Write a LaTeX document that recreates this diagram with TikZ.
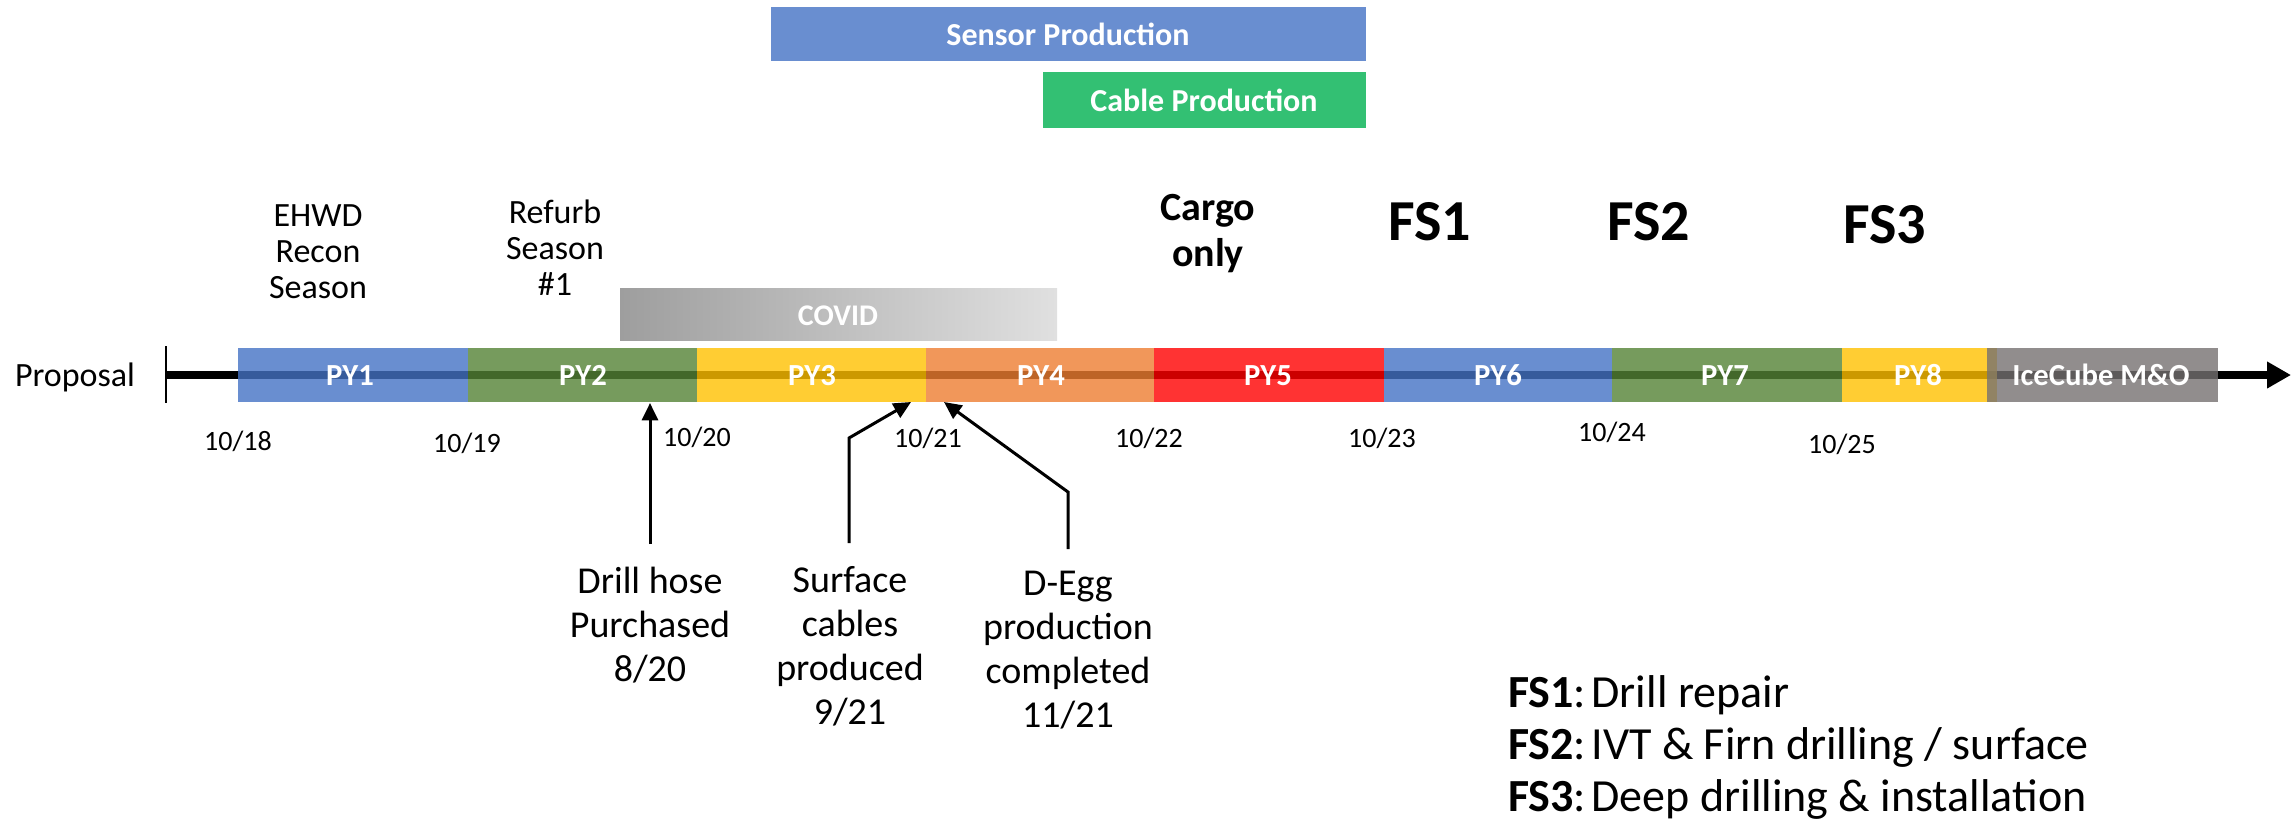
\documentclass[tikz,border=0pt]{standalone}
\usepackage{fontspec}
\setmainfont{Carlito}
\usetikzlibrary{arrows.meta}
\definecolor{cBlue}{RGB}{68,114,196}
\definecolor{cGreen}{RGB}{84,130,53}
\definecolor{cYellow}{RGB}{255,192,0}
\definecolor{cOrange}{RGB}{237,125,49}
\definecolor{cRed}{RGB}{255,0,0}
\definecolor{cGray}{RGB}{117,113,113}
\definecolor{sensorBlue}{RGB}{105,142,208}
\definecolor{cableGreen}{RGB}{51,192,115}
\definecolor{covL}{RGB}{158,158,158}
\definecolor{covR}{RGB}{224,224,224}
\newcommand\fsz[2]{\fontsize{#1}{#2}\selectfont}
\newcommand\fsgap{\hspace{0.12em}}
\begin{document}
\begin{tikzpicture}[x=0.75pt,y=-0.75pt,
  pybox/.style={fill opacity=0.8},
  pylabel/.style={text=white, font=\bfseries\fsz{23}{27}, anchor=base, inner sep=0},
  datelbl/.style={font=\fsz{21}{25}, anchor=base, inner sep=0},
  season/.style={font=\fsz{25.5}{27}, align=center, anchor=north, inner sep=0},
  fshead/.style={font=\bfseries\fsz{43.5}{50}, anchor=base, inner sep=0},
  prodbar/.style={text=white, font=\bfseries\fsz{24}{28}, inner sep=0},
  note/.style={font=\fsz{28.5}{33}, align=center, anchor=north, inner sep=0},
  ann/.style={line width=2.25pt, -{Triangle[length=13pt,width=12pt]}}
]
\useasboundingbox (0,0) rectangle (2291,819);

% production bars
\fill[sensorBlue] (771,7) rectangle (1366,61);
\node[prodbar] (sensor) at (1068,34) {Sensor Production};
\fill[cableGreen] (1043,72) rectangle (1366,128);
\node[prodbar] (cable) at (1204,100) {Cable Production};

% season labels
\node[season] (ehwd) at (318,204) {EHWD\\Recon\\Season};
\node[season] (refurb) at (555,200) {Refurb\\Season\\\#1};
\node[font=\bfseries\fsz{30}{34.5}, align=center, anchor=north, inner sep=0] (cargo) at (1208,194) {Cargo\\only};
\node[fshead] (fs1) at (1430,240) {FS1};
\node[fshead] (fs2) at (1649,240) {FS2};
\node[fshead] (fs3) at (1885,243) {FS3};

% COVID
\shade[left color=covL, right color=covR] (620,288) rectangle (1057,340);
\node[text=white, font=\bfseries\fsz{22.5}{26}, inner sep=0] (covid) at (838,316) {COVID};

% timeline
\node[font=\fsz{25.5}{30}, anchor=base, inner sep=0] (proposal) at (75,386) {Proposal};
\coordinate (tlstart) at (166,375);
\coordinate (tlend) at (2291,375);
\draw[line width=6pt, -{Triangle[length=18pt,width=19pt]}] (tlstart) -- (tlend);
\draw[line width=1.5pt] (166,346) -- (166,403);

\fill[cBlue, pybox] (238,348) rectangle (468,402);
\fill[cGreen, pybox] (468,348) rectangle (697,402);
\fill[cYellow, pybox] (697,348) rectangle (926,402);
\fill[cOrange, pybox] (926,348) rectangle (1154,402);
\fill[cRed, pybox] (1154,348) rectangle (1384,402);
\fill[cBlue, pybox] (1384,348) rectangle (1612,402);
\fill[cGreen, pybox] (1612,348) rectangle (1842,402);
\fill[cYellow, pybox] (1842,348) rectangle (1997,402);
\fill[cGray, pybox] (1987,348) rectangle (2218,402);

\node[pylabel] (py1) at (350,385) {PY1};
\node[pylabel] (py2) at (583,385) {PY2};
\node[pylabel] (py3) at (812,385) {PY3};
\node[pylabel] (py4) at (1041,385) {PY4};
\node[pylabel] (py5) at (1268,385) {PY5};
\node[pylabel] (py6) at (1498,385) {PY6};
\node[pylabel] (py7) at (1725,385) {PY7};
\node[pylabel] (py8) at (1918,385) {PY8};
\node[pylabel] (mo) at (2101,385) {IceCube M\&O};

% dates
\node[datelbl] (d18) at (238,450) {10/18};
\node[datelbl] (d19) at (467,452) {10/19};
\node[datelbl] (d20) at (697,446) {10/20};
\node[datelbl] (d21) at (928,447) {10/21};
\node[datelbl] (d22) at (1149,447) {10/22};
\node[datelbl] (d23) at (1382,447) {10/23};
\node[datelbl] (d24) at (1612,441) {10/24};
\node[datelbl] (d25) at (1842,453) {10/25};

% annotations
\node[note] (drill) at (650,567) {Drill hose\\Purchased\\8/20};
\node[note] (surface) at (850,566) {Surface\\cables\\produced\\9/21};
\node[note] (degg) at (1068,571) {D-Egg\\production\\completed\\11/21};

\coordinate (baseA) at (650,544);
\coordinate (tipA) at (650,403);
\draw[ann] (baseA) -- (tipA);
\coordinate (baseB) at (849,543);
\coordinate (bendB) at (849,438);
\coordinate (tipB) at (911,402);
\draw[ann] (baseB) -- (bendB) -- (tipB);
\coordinate (baseC) at (1068,549);
\coordinate (bendC) at (1068,492);
\coordinate (tipC) at (944,402);
\draw[ann] (baseC) -- (bendC) -- (tipC);

% legend
\node[font=\fsz{34.5}{39}, align=left, anchor=north west, inner sep=0] (legend) at (1508,675)
  {\textbf{FS1}:\fsgap Drill repair\\\textbf{FS2}:\fsgap IVT \& Firn drilling / surface\\\textbf{FS3}:\fsgap Deep drilling \& installation};
\end{tikzpicture}
\end{document}
